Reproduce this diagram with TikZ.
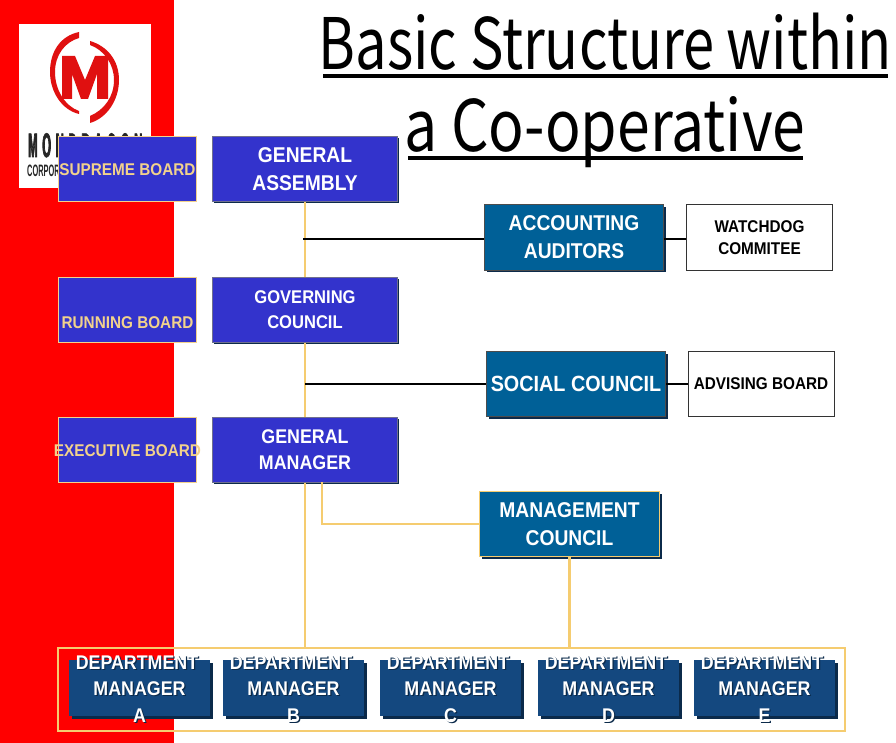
\documentclass[tikz,border=0pt]{standalone}
\usepackage{fontspec}
\usetikzlibrary{shadows}
\setmainfont{Liberation Sans}
\newfontfamily\boxfont[FakeStretch=0.9]{Liberation Sans Bold}
\newfontfamily\titlefont[FakeStretch=0.83]{Noto Sans CJK JP}
\newfontfamily\titlefontB[FakeStretch=0.79]{Noto Sans CJK JP}
\newfontfamily\logoA[FakeStretch=0.33,FakeBold=2,LetterSpace=14]{Liberation Sans Bold}
\newfontfamily\logoB[FakeStretch=0.45]{Liberation Sans Bold}
\definecolor{redbg}{HTML}{FF0000}
\definecolor{royal}{HTML}{3333CC}
\definecolor{teal}{HTML}{006097}
\definecolor{navy}{HTML}{14487F}
\definecolor{gold}{HTML}{F5CC70}
\definecolor{sand}{HTML}{F2D28C}
\definecolor{shade}{HTML}{0B2A4A}
\definecolor{logored}{HTML}{E01010}
\newcommand{\fs}[2]{\boxfont\fontsize{#1}{#2}\selectfont}
\newcommand{\spill}[1]{\makebox[0pt]{#1}}
\newcommand{\depttext}[1]{\raisebox{-7.5pt}[0pt][0pt]{\begin{tabular}{@{}c@{}}\hspace*{-5pt}DEPARTMENT\\MANAGER\\#1\end{tabular}}}
\newcommand{\deptnode}[3]{%
  \node[deptbox] (#1) at (#2,688) {};
  \node[depttextstyle,text=shade] (#1shadow) at (#2+1.2,689.2) {\depttext{#3}};
  \node[depttextstyle,text=white] (#1text) at (#2,688) {\depttext{#3}};
}
\tikzset{
  x=1pt,y=-1pt,
  base/.style={rectangle,inner sep=0pt,align=center,text=white,minimum height=65pt},
  rolebox/.style={base,fill=royal,draw=sand,line width=1pt,text=sand,minimum width=138pt,font=\fs{17}{22}},
  mainbox/.style={base,fill=royal,draw=gray!80!royal,line width=1pt,minimum width=185pt,
     general shadow={fill=shade,shadow xshift=1.5pt,shadow yshift=-1.5pt}},
  tealbox/.style={base,fill=teal,draw=black!70,line width=1pt,minimum width=179pt,
     general shadow={fill=shade,shadow xshift=2pt,shadow yshift=-2pt}},
  plainbox/.style={base,fill=white,draw=black!80,line width=1pt,minimum width=146pt,text=black,font=\fs{17}{22}},
  deptbox/.style={base,fill=navy,minimum width=141pt,minimum height=56pt,
     general shadow={fill=shade,shadow xshift=2.5pt,shadow yshift=-2.5pt}},
  depttextstyle/.style={inner sep=0pt,font=\fs{19.8}{26.5}},
  goldline/.style={draw=gold,line width=2.5pt},
  blackline/.style={draw=black,line width=2pt},
}
\begin{document}
\begin{tikzpicture}
\useasboundingbox (0,0) rectangle (896,743);
\fill[white] (0,0) rectangle (896,743);
\fill[redbg] (0,0) rectangle (174,743);
% logo
\fill[white] (19,24) rectangle (151,188);
\fill[logored] (79,32) .. controls (60,36) and (50,52) .. (50,72) .. controls (50,92) and (62,110) .. (79,114) -- (79,111) .. controls (65,106) and (55,90) .. (55,72) .. controls (55,55) and (65,42) .. (79,38) -- cycle;
\fill[logored] (90,41) .. controls (107,46) and (119,60) .. (119,80) .. controls (119,100) and (107,118) .. (90,123) -- (90,116) .. controls (104,110) and (114,97) .. (114,80) .. controls (114,64) and (104,50) .. (90,45) -- cycle;
\fill[logored] (62,56) -- (75,56) -- (85,80) -- (95,56) -- (108,56) -- (108,99) -- (97,99) -- (97,74) -- (88,99) -- (81,99) -- (72,74) -- (72,99) -- (62,99) -- cycle;
\node[anchor=base west,inner sep=0pt,text=black!85,font=\logoA\fontsize{34}{34}\selectfont] (logoname) at (28,157) {MONDRAGON};
\node[anchor=base west,inner sep=0pt,text=black!85,font=\logoB\fontsize{16.5}{16.5}\selectfont] (logosub) at (27,176.5) {CORPORACION};
% title
\node[anchor=base,inner sep=0pt,text=black,font=\titlefontB\fontsize{71}{71}\selectfont] (title1) at (605.5,70) {Basic Structure within};
\node[anchor=base,inner sep=0pt,text=black,font=\titlefont\fontsize{71}{71}\selectfont] (title2) at (605,152) {a Co-operative};
\fill[black] (323,74) rectangle (888,78);
\fill[black] (408,156) rectangle (803,160);
% frame and connector anchors
\node[rectangle,draw=gold,line width=2pt,minimum width=787pt,minimum height=83pt,inner sep=0pt] (frame) at (451.5,689.5) {};
\coordinate (j1) at (303,239);
\coordinate (j2) at (305,383.5);
\coordinate (j3) at (322,482);
% boxes
\node[rolebox] (supreme) at (127.5,169) {\raisebox{-7pt}[0pt][0pt]{\spill{SUPREME BOARD}}};
\node[rolebox] (running) at (127.5,309.5) {\raisebox{-19pt}[0pt][0pt]{\spill{RUNNING BOARD}}};
\node[rolebox] (exec) at (127.5,449.5) {\raisebox{-7pt}[0pt][0pt]{\spill{EXECUTIVE BOARD}}};
\node[mainbox,font=\fs{21.4}{28}] (ga) at (305,169) {GENERAL\\ASSEMBLY};
\node[mainbox,font=\fs{18.4}{25}] (gc) at (305,309.5) {GOVERNING\\COUNCIL};
\node[mainbox,font=\fs{19.8}{26}] (gm) at (305,449.5) {GENERAL\\MANAGER};
% gold connectors under the boxes
\draw[goldline] (ga.south) -- (gc.north);
\draw[goldline] (gc.south) -- (gm.north);
\draw[goldline] (gm.south) -- (gm.south |- frame.north);
\node[tealbox,font=\fs{21.4}{28}] (aud) at (574,237.5) {ACCOUNTING\\AUDITORS};
\node[plainbox] (watch) at (759.5,237.5) {WATCHDOG\\COMMITEE};
\node[tealbox,font=\fs{22}{28}] (social) at (576,384) {SOCIAL COUNCIL};
\node[plainbox] (advise) at (761,384) {ADVISING BOARD};
\node[tealbox,draw=gold,minimum width=180pt,font=\fs{21.4}{28}] (mc) at (569.5,524) {MANAGEMENT\\COUNCIL};
\draw[blackline] (j1) -- (j1 -| aud.west);
\draw[blackline] (aud.east |- j1) -- (watch.west |- j1);
\draw[blackline] (j2) -- (j2 -| social.west);
\draw[blackline] (social.east |- j2) -- (advise.west |- j2);
\draw[goldline] (j3) -- (j3 |- mc.west) -- (mc.west);
\draw[goldline] (mc.south) -- (mc.south |- frame.north);
\deptnode{da}{139.5}{A}
\deptnode{db}{293.5}{B}
\deptnode{dc}{450.5}{C}
\deptnode{dd}{608.5}{D}
\deptnode{de}{764.5}{E}
\end{tikzpicture}
\end{document}
